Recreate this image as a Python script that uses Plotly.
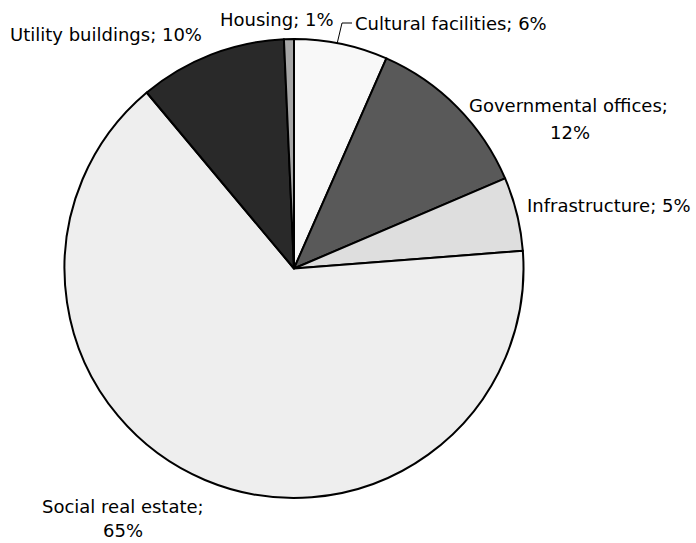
import plotly.graph_objects as go

categories = ["Cultural facilities", "Governmental offices", "Infrastructure",
              "Social real estate", "Utility buildings", "Housing"]
shares = [6.6, 12.0, 5.2, 65.2, 10.4, 0.7]
pct_labels = ["6%", "12%", "5%", "65%", "10%", "1%"]
colors = ["#f8f8f8", "#595959", "#dedede", "#eeeeee", "#292929", "#a6a6a6"]

W, H = 696, 543
cx, cy, R = 294, 268.5, 229.5

fig = go.Figure(go.Pie(
    labels=categories, values=shares, sort=False, direction="clockwise",
    rotation=0, textinfo="none", hoverinfo="label+percent",
    marker=dict(colors=colors, line=dict(color="#000000", width=2)),
    domain=dict(x=[(cx - R) / W, (cx + R) / W],
                y=[(H - cy - R) / H, (H - cy + R) / H]),
    showlegend=False,
))

font = dict(family="DejaVu Sans, Tahoma, sans-serif", size=18, color="#000000")
# (line texts, list of (x, y) line centres in pixels)
label_lines = {
    "Cultural facilities": [(451, 23)],
    "Governmental offices": [(568, 105), (570, 132)],
    "Infrastructure": [(609, 206)],
    "Social real estate": [(123, 507), (123, 530)],
    "Utility buildings": [(106, 34)],
    "Housing": [(277, 19)],
}
ann = []
for cat, pct in zip(categories, pct_labels):
    pos = label_lines[cat]
    texts = [f"{cat}; {pct}"] if len(pos) == 1 else [f"{cat};", pct]
    for t, (px, py) in zip(texts, pos):
        ann.append(dict(x=px / W, y=1 - py / H, xref="paper", yref="paper",
                        text=t, showarrow=False, font=font,
                        xanchor="center", yanchor="middle"))

fig.add_shape(type="path", xref="paper", yref="paper",
              path=f"M {337/W} {1-44/H} L {342/W} {1-23/H} L {352/W} {1-23/H}",
              line=dict(color="#000000", width=1))

fig.update_layout(width=W, height=H, margin=dict(l=0, r=0, t=0, b=0),
                  paper_bgcolor="white", plot_bgcolor="white", annotations=ann)
fig.write_html("out.html")
